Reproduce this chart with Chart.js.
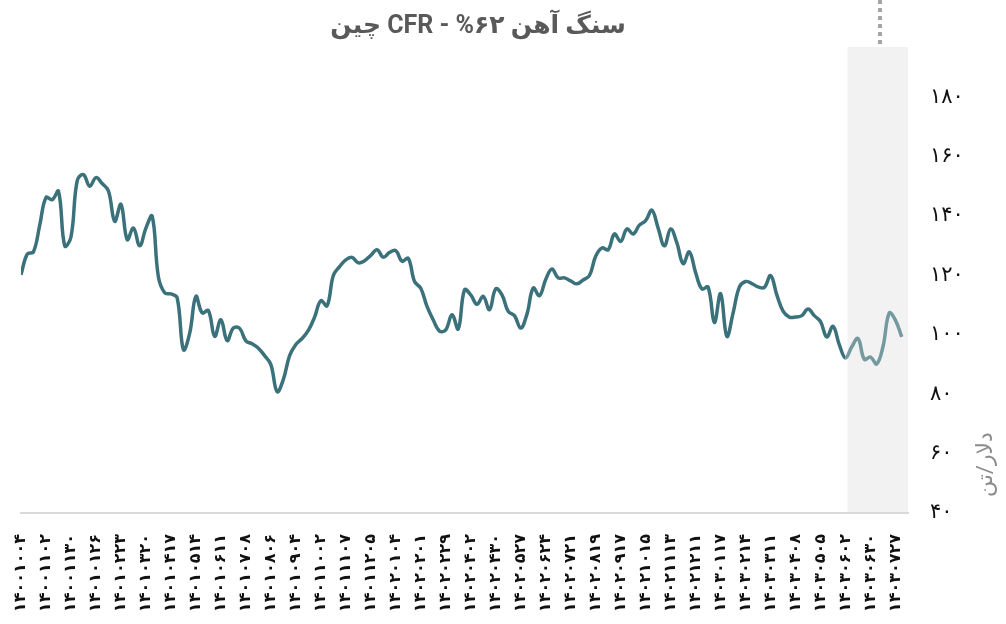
<!DOCTYPE html>
<html lang="fa">
<head>
<meta charset="utf-8">
<title>سنگ آهن ۶۲% - CFR چین</title>
<script src="https://cdn.jsdelivr.net/npm/chart.js@4.4.1/dist/chart.umd.min.js"></script>
<style>
  html, body { margin: 0; padding: 0; background: #fff; }
</style>
</head>
<body>
<canvas id="oreChart" width="1006" height="624"></canvas>
<script>
const chartTitle = 'سنگ آهن ۶۲% - CFR چین';
const unitLabel = 'دلار/تن';

// weekly price, USD per tonne
const prices = [
  120.3, 127.2, 128, 137, 146.3, 145.6, 148.4, 130, 133, 152,
  154, 150.1, 153, 151, 148.5, 138.3, 144, 132.1, 136, 130,
  136, 140, 119.5, 114.2, 113.8, 112.5, 95, 100.5, 113, 107.4,
  108.2, 99.5, 105.1, 98.1, 102.3, 102.2, 98, 97, 95.5, 93,
  90, 80.9, 85, 93, 96.8, 98.8, 101.5, 106, 111.5, 109.8,
  120, 123, 125.3, 126.1, 124.3, 125, 126.8, 128.7, 126.2, 127.8,
  128.4, 124.8, 125.8, 118, 115.7, 109.6, 105, 101.3, 101.7, 106.8,
  102, 115.2, 113.5, 110.3, 113, 108.5, 115.5, 113.5, 107.9, 106.5,
  102.3, 107, 115.8, 113.2, 118.7, 122.2, 119.2, 119.2, 118.2, 117.2,
  118.5, 120, 126.5, 129.3, 128.7, 134, 131.5, 135.7, 134, 137,
  138.5, 142, 136, 130, 135.7, 131, 124, 128, 121, 115.5,
  116.1, 104.2, 113.9, 99.5, 107.4, 116.1, 118, 117.3, 116.2, 116,
  120, 113.5, 108, 106, 106, 106.5, 108.7, 106.5, 104.5, 99.3,
  102.9, 96.7, 92.2, 96, 98.8, 91.8, 92.5, 90.2, 96.1, 107.4,
  104.9, 99.3
];

// one label every four weeks
const dateLabels = [
  '14001004', '14001102', '14001130', '14010126', '14010223', '14010320',
  '14010417', '14010514', '14010611', '14010708', '14010806', '14010904',
  '14011002', '14011107', '14011205', '14020104', '14020201', '14020229',
  '14020402', '14020430', '14020527', '14020624', '14020721', '14020819',
  '14020917', '14021015', '14021113', '14021211', '14030117', '14030214',
  '14030311', '14030408', '14030505', '14030602', '14030630', '14030727'
];
const labelStep = 4;
const yTicks = [40, 60, 80, 100, 120, 140, 160, 180];

const forecastStart = 132;  // weeks from here on are projected
const markerWeek = 137.5;

const darkLine = '#3a717a';
const lightLine = '#74999f';

const faDigits = '۰۱۲۳۴۵۶۷۸۹';
const toFa = s => String(s).replace(/\d/g, d => faDigits[d]);

const fontFamily = 'Roboto, "DejaVu Sans", sans-serif';

// grey band behind the projected weeks, dotted marker above the plot,
// title and the unit label beside the value axis
const decorations = {
  id: 'decorations',
  beforeDraw(chart) {
    const { ctx, chartArea, scales: { x, y } } = chart;
    const left = x.getPixelForValue(forecastStart) + 2;
    ctx.save();
    ctx.fillStyle = '#f2f2f2';
    ctx.fillRect(left, chartArea.top, chartArea.right - left, chartArea.bottom - chartArea.top);

    const mx = Math.round(x.getPixelForValue(markerWeek));
    ctx.strokeStyle = '#a6a6a6';
    ctx.lineWidth = 4;
    ctx.setLineDash([4, 4]);
    ctx.beginPath();
    ctx.moveTo(mx, 0);
    ctx.lineTo(mx, chartArea.top);
    ctx.stroke();
    ctx.setLineDash([]);

    ctx.direction = 'rtl';
    ctx.textAlign = 'center';
    ctx.textBaseline = 'middle';
    ctx.font = 'bold 25px ' + fontFamily;
    ctx.fillStyle = '#595959';
    ctx.fillText(chartTitle, 478, 27);

    ctx.translate(y.right - 14, chartArea.bottom - 16);
    ctx.rotate(-Math.PI / 2);
    ctx.textAlign = 'left';
    ctx.font = '22px ' + fontFamily;
    ctx.fillStyle = '#8c8c8c';
    ctx.fillText(unitLabel, 0, 0);
    ctx.restore();
  }
};

const points = prices.map((v, i) => ({ x: i, y: v }));

new Chart(document.getElementById('oreChart'), {
  type: 'line',
  data: {
    datasets: [{
      data: points,
      borderColor: darkLine,
      borderWidth: 3.5,
      pointRadius: 0,
      tension: 0.4,
      segment: {
        borderColor: c => c.p0DataIndex >= forecastStart ? lightLine : darkLine
      }
    }]
  },
  options: {
    responsive: false,
    animation: false,
    layout: { padding: { left: 20, top: 47, right: 6, bottom: 0 } },
    plugins: {
      legend: { display: false },
      tooltip: { enabled: false },
      title: { display: false }
    },
    scales: {
      x: {
        type: 'linear',
        min: 0,
        max: 142,
        grid: { display: false, drawTicks: false },
        border: { color: '#d9d9d9', width: 2 },
        afterBuildTicks: s => { s.ticks = dateLabels.map((_, i) => ({ value: i * labelStep })); },
        afterFit: s => { s.height = 111; },
        ticks: {
          autoSkip: false,
          minRotation: 90,
          maxRotation: 90,
          padding: 21,
          color: '#111',
          font: { family: fontFamily, size: 16, weight: 'bold' },
          callback: v => toFa(dateLabels[v / labelStep])
        }
      },
      y: {
        position: 'right',
        min: 40,
        max: 197,
        grid: { display: false, drawTicks: false },
        border: { display: false },
        afterBuildTicks: s => { s.ticks = yTicks.map(v => ({ value: v })); },
        afterFit: s => { s.width = 92; },
        ticks: {
          padding: 22,
          color: '#111',
          font: { family: fontFamily, size: 21 },
          callback: v => toFa(v)
        }
      }
    }
  },
  plugins: [decorations]
});
</script>
</body>
</html>
